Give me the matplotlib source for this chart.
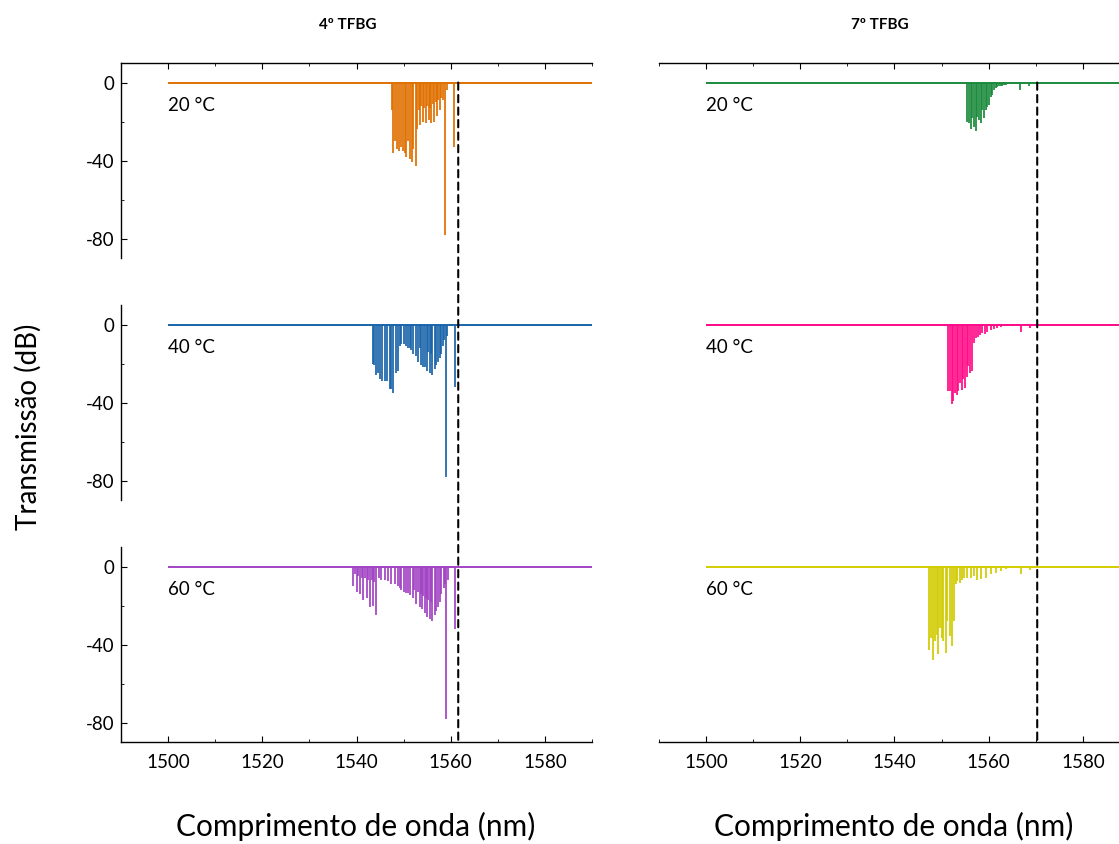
import matplotlib
matplotlib.use('Agg')
import matplotlib.pyplot as plt
from matplotlib.patches import ConnectionPatch
from matplotlib.ticker import MultipleLocator

plt.rcParams['font.family'] = ['Lato', 'DejaVu Sans']
plt.rcParams['axes.unicode_minus'] = False

# --- transmission dips (wavelength nm, minimum dB) ---
# 4º TFBG
T4_20_WL = [1547.5, 1547.7, 1548.1, 1548.5, 1549.0, 1549.4, 1549.8, 1550.2, 1550.6, 1550.9, 1551.3,
            1551.7, 1552.1, 1552.55, 1552.9, 1553.2, 1553.5, 1553.8, 1554.1, 1554.4, 1554.7, 1555.0,
            1555.3, 1555.6, 1555.9, 1556.2, 1556.5, 1556.8, 1557.1, 1557.4, 1557.7, 1558.0, 1558.3,
            1558.8, 1559.2, 1560.7]
T4_20_MIN = [-14, -36, -30, -34, -35, -33, -35, -36, -38, -30, -39,
             -41, -34, -43, -24, -14, -22, -12, -20, -13, -21, -12,
             -19, -13, -21, -11, -20, -10, -17, -9, -14, -8, -9,
             -78, -4, -33]

T4_40_WL = [1543.47, 1543.82, 1544.18, 1544.53, 1544.89, 1545.38, 1545.95, 1546.45, 1547.02, 1547.37,
            1547.72, 1548.29, 1548.79, 1549.14, 1549.50, 1549.99, 1550.56, 1550.91, 1551.27, 1551.62,
            1551.98, 1552.55, 1553.04, 1553.4, 1553.75, 1554.11, 1554.46, 1554.96, 1555.2, 1555.52,
            1555.8, 1556.09, 1556.59, 1556.94, 1557.30, 1557.65, 1558.01, 1558.36, 1558.57, 1558.93,
            1559.21, 1560.84]
T4_40_MIN = [-20, -21, -26, -25, -28, -29, -29, -29, -33, -33,
             -35, -25, -24, -11, -10, -10, -11, -12, -12, -13,
             -15, -16, -19, -12, -21, -22, -22, -24, -14, -25,
             -15, -26, -23, -21, -19, -17, -15, -11, -8, -78,
             -6, -32]

T4_60_WL = [1539.36, 1539.7, 1540.07, 1540.4, 1540.78, 1541.1, 1541.48, 1541.8, 1542.19, 1542.5,
            1542.90, 1543.2, 1543.47, 1543.8, 1544.18, 1544.75, 1545.24, 1545.95, 1546.66, 1547.37,
            1548.08, 1548.79, 1549.14, 1549.50, 1549.99, 1550.56, 1550.91, 1551.41, 1551.98, 1552.3,
            1552.69, 1553.0, 1553.40, 1553.7, 1553.96, 1554.2, 1554.46, 1554.7, 1554.96, 1555.2,
            1555.52, 1555.8, 1556.09, 1556.59, 1556.94, 1557.37, 1557.65, 1558.01, 1558.50, 1558.78,
            1559.07, 1559.42, 1560.91]
T4_60_MIN = [-10, -4, -13, -5, -14, -6, -17, -6, -16, -7,
             -21, -7, -20, -8, -25, -6, -7, -7, -7.5, -9,
             -9, -10, -11, -12, -13, -13.5, -13.5, -14.5, -16, -12,
             -19, -13, -21, -14, -22, -15, -24, -16, -26, -17,
             -27, -18, -28, -25, -23, -21, -18, -14, -11, -9,
             -78, -7, -32]

# 7º TFBG
T7_20_WL = [1555.46, 1555.82, 1556.17, 1556.53, 1556.88, 1557.24, 1557.59, 1557.94, 1558.30, 1558.65,
            1559.01, 1559.36, 1559.72, 1560.07, 1560.43, 1560.78, 1561.13, 1561.49, 1561.84, 1562.2,
            1562.55, 1562.9, 1563.26, 1563.6, 1563.97, 1564.3, 1564.68, 1565.39, 1566.66, 1568.58]
T7_20_MIN = [-20, -21, -24, -18, -23, -25, -17.5, -19, -21, -14,
             -18, -14, -12.5, -11.5, -7.5, -6.5, -4, -3, -2.2, -2,
             -1.9, -1.6, -1.4, -1.2, -1.0, -0.8, -0.7, -0.5, -4, -2]

T7_40_WL = [1551.34, 1551.77, 1552.12, 1552.48, 1552.83, 1553.19, 1553.54, 1553.90, 1554.25, 1554.61,
            1554.96, 1555.31, 1555.67, 1556.02, 1556.38, 1556.87, 1557.23, 1557.72, 1558.15, 1558.65,
            1559.21, 1559.71, 1560.42, 1561.13, 1561.84, 1562.55, 1563.26, 1563.96, 1564.67, 1566.94,
            1568.79]
T7_40_MIN = [-34, -34, -41, -39, -35, -36, -34, -30, -33.5, -28,
             -32.6, -26.7, -21.5, -25, -24, -9.6, -7, -6.2, -5.3, -4.4,
             -4.8, -3.6, -2.7, -2.4, -1.9, -1.4, -1.0, -0.7, -0.5, -4,
             -1.9]

T7_60_WL = [1547.30, 1547.65, 1548.08, 1548.50, 1548.93, 1549.28, 1549.64, 1549.99, 1550.35, 1550.84,
            1551.20, 1551.77, 1552.26, 1552.62, 1552.97, 1553.33, 1553.89, 1554.39, 1554.74, 1555.45,
            1556.16, 1556.87, 1557.58, 1558.43, 1559.35, 1560.42, 1561.48, 1562.54, 1563.61, 1564.67,
            1566.94, 1568.78]
T7_60_MIN = [-42.6, -36.6, -47.7, -38.3, -34.9, -45, -31.5, -36.6, -38.3, -44.3,
             -28, -35.7, -40.8, -28, -9.2, -7.5, -8.4, -6.7, -5.8, -5.8,
             -5.8, -5, -6.7, -6.2, -5.8, -4.1, -3.3, -2.4, -1.5, -1.0,
             -3.8, -1.7]

BASE_START, BASE_END = 1500, 1590
BRAGG_4 = 1561.6   # dashed reference lines
BRAGG_7 = 1570.3
TEMPS = ['20 °C', '40 °C', '60 °C']

COLS = [
    ('4º TFBG', BRAGG_4,
     [(T4_20_WL, T4_20_MIN, '#e07000'), (T4_40_WL, T4_40_MIN, '#1a64aa'), (T4_60_WL, T4_60_MIN, '#a244c4')]),
    ('7º TFBG', BRAGG_7,
     [(T7_20_WL, T7_20_MIN, '#1a8a3c'), (T7_40_WL, T7_40_MIN, '#ff0a87'), (T7_60_WL, T7_60_MIN, '#d2cc00')]),
]

fig = plt.figure(figsize=(11.19, 8.44), dpi=100)
W, H = 1119, 844
col_x = [121, 659]
ax_w = 471
rows_y = [(63, 258), (305, 500), (547, 742)]

for c, (title, bragg, spectra) in enumerate(COLS):
    axes = []
    for r, (wl, tmin, color) in enumerate(spectra):
        y0, y1 = rows_y[r]
        ax = fig.add_axes([col_x[c] / W, 1 - y1 / H, ax_w / W, (y1 - y0) / H])
        ax.set_xlim(1490, 1590)
        ax.set_ylim(-90, 10)
        ax.patch.set_alpha(0)
        ax.hlines(0, BASE_START, BASE_END, color=color, lw=1.4)
        ax.vlines(wl, tmin, 0, color=color, lw=1.25)
        ax.text(1500, -12, TEMPS[r], fontsize=13.5, ha='left', va='center')
        ax.spines['right'].set_visible(False)
        ax.spines['top'].set_visible(r == 0)
        ax.spines['bottom'].set_visible(r == 2)
        ax.spines['left'].set_visible(c == 0)
        for s in ax.spines.values():
            s.set_linewidth(1.0)
        ax.xaxis.set_major_locator(MultipleLocator(20))
        ax.xaxis.set_minor_locator(MultipleLocator(10))
        ax.yaxis.set_major_locator(MultipleLocator(40))
        ax.yaxis.set_minor_locator(MultipleLocator(20))
        ax.tick_params(which='both', direction='in', labelsize=13.5)
        ax.tick_params(which='major', length=4)
        ax.tick_params(which='minor', length=2.5)
        ax.tick_params(axis='y', pad=5)
        ax.tick_params(axis='x', which='both', top=(r == 0), bottom=(r == 2),
                       labelbottom=(r == 2), pad=9)
        if c == 1:
            ax.tick_params(axis='y', left=False, labelleft=False, which='both')
        axes.append(ax)
    con = ConnectionPatch(xyA=(bragg, 0), coordsA=axes[0].transData,
                          xyB=(bragg, -90), coordsB=axes[2].transData,
                          color='black', lw=1.5, linestyle=(0, (3.5, 2.5)))
    fig.add_artist(con)
    fig.text([348, 880][c] / W, 1 - 25 / H, title, fontsize=11, fontweight='bold',
             ha='center', va='center')
    fig.text([356, 894][c] / W, 1 - 826 / H, 'Comprimento de onda (nm)', fontsize=21.5,
             ha='center', va='center')

fig.text(28 / W, 1 - 427 / H, 'Transmissão (dB)', fontsize=20, rotation=90,
         ha='center', va='center')

fig.savefig('out.png', dpi=100)
